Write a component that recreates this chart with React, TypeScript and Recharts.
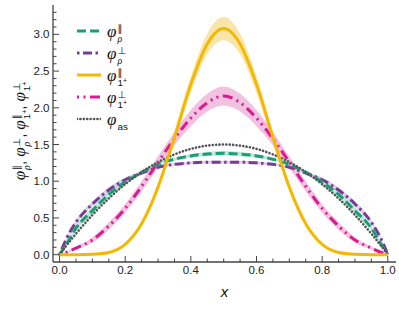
import React from 'react';
import { ComposedChart, Line, Area, XAxis, YAxis } from 'recharts';

// momentum fraction grid
const xs = [0, 0.02, 0.05, 0.1, 0.15, 0.2, 0.25, 0.3, 0.35, 0.4, 0.45, 0.5, 0.55, 0.6, 0.65, 0.7, 0.75, 0.8, 0.85, 0.9, 0.95, 0.98, 1];

// curves
const phiAs = [0, 0.118, 0.285, 0.54, 0.765, 0.96, 1.125, 1.26, 1.365, 1.44, 1.485, 1.5, 1.485, 1.44, 1.365, 1.26, 1.125, 0.96, 0.765, 0.54, 0.285, 0.118, 0];
const rhoPar = [0, 0.14, 0.36, 0.6, 0.82, 0.99, 1.12, 1.23, 1.3, 1.345, 1.37, 1.38, 1.37, 1.345, 1.3, 1.23, 1.12, 0.99, 0.82, 0.6, 0.36, 0.14, 0];
const rhoPerp = [0, 0.21, 0.44, 0.69, 0.88, 1.02, 1.11, 1.19, 1.23, 1.25, 1.26, 1.26, 1.26, 1.25, 1.23, 1.19, 1.11, 1.02, 0.88, 0.69, 0.44, 0.21, 0];
const onePar = [0, 0, 0, 0.005, 0.03, 0.14, 0.42, 0.92, 1.6, 2.32, 2.87, 3.08, 2.87, 2.32, 1.6, 0.92, 0.42, 0.14, 0.03, 0.005, 0, 0, 0];
const onePerp = [0, 0.03, 0.09, 0.2, 0.39, 0.63, 0.93, 1.26, 1.58, 1.86, 2.07, 2.16, 2.07, 1.86, 1.58, 1.26, 0.93, 0.63, 0.39, 0.2, 0.09, 0.03, 0];

// uncertainty half-widths (shaded bands)
const rhoParErr = [0, 0.02, 0.035, 0.045, 0.045, 0.04, 0.03, 0.02, 0.02, 0.025, 0.03, 0.03, 0.03, 0.025, 0.02, 0.02, 0.03, 0.04, 0.045, 0.045, 0.035, 0.02, 0];
const rhoPerpErr = [0, 0.02, 0.03, 0.035, 0.035, 0.03, 0.02, 0.015, 0.015, 0.02, 0.02, 0.02, 0.02, 0.02, 0.015, 0.015, 0.02, 0.03, 0.035, 0.035, 0.03, 0.02, 0];
const oneParErr = [0, 0, 0, 0.001, 0.003, 0.01, 0.025, 0.05, 0.08, 0.11, 0.14, 0.16, 0.14, 0.11, 0.08, 0.05, 0.025, 0.01, 0.003, 0.001, 0, 0, 0];
const onePerpErr = [0, 0.01, 0.02, 0.035, 0.05, 0.06, 0.07, 0.08, 0.09, 0.11, 0.12, 0.13, 0.12, 0.11, 0.09, 0.08, 0.07, 0.06, 0.05, 0.035, 0.02, 0.01, 0];

const xTicks = [0, 0.05, 0.1, 0.15, 0.2, 0.25, 0.3, 0.35, 0.4, 0.45, 0.5, 0.55, 0.6, 0.65, 0.7, 0.75, 0.8, 0.85, 0.9, 0.95, 1];
const xMajor = [0, 0.2, 0.4, 0.6, 0.8, 1];
const yTicks = [0, 0.1, 0.2, 0.3, 0.4, 0.5, 0.6, 0.7, 0.8, 0.9, 1, 1.1, 1.2, 1.3, 1.4, 1.5, 1.6, 1.7, 1.8, 1.9, 2, 2.1, 2.2, 2.3, 2.4, 2.5, 2.6, 2.7, 2.8, 2.9, 3, 3.1, 3.2, 3.3];
const yMajor = [0, 0.5, 1, 1.5, 2, 2.5, 3];

const data = xs.map((x, i) => ({
  x,
  as: phiAs[i],
  rp: rhoPar[i],
  rt: rhoPerp[i],
  op: onePar[i],
  ot: onePerp[i],
  rpBand: [rhoPar[i] - rhoParErr[i], rhoPar[i] + rhoParErr[i]],
  rtBand: [rhoPerp[i] - rhoPerpErr[i], rhoPerp[i] + rhoPerpErr[i]],
  opBand: [onePar[i] - oneParErr[i], onePar[i] + oneParErr[i]],
  otBand: [onePerp[i] - onePerpErr[i], onePerp[i] + onePerpErr[i]],
}));

const GREEN = '#1b9e77';
const PURPLE = '#7a3b96';
const ORANGE = '#f5b800';
const MAGENTA = '#d81b93';
const GRAY = '#555';
const AXIS = '#444';

const DASH_GREEN = '9 4';
const DASH_PURPLE = '2.5 3.5 9 3.5';
const DASH_MAGENTA = '2 4.5 2 4.5 10 4.5';
const DASH_GRAY = '0.1 3.3';

const isIn = (v: number, list: number[]) => list.some((m) => Math.abs(m - v) < 1e-6);
const labelFont = '"Liberation Sans", Arial, sans-serif';

const BottomTick = (props: any) => {
  const { x, y, payload } = props;
  const major = isIn(payload.value, xMajor);
  return (
    <g>
      <line x1={x} x2={x} y1={y} y2={y - (major ? 6 : 3.5)} stroke={AXIS} strokeWidth={1} />
      {major && (
        <text x={x} y={y + 12} textAnchor="middle" fontSize={11.5} fontFamily={labelFont} fill="#222">
          {payload.value.toFixed(1)}
        </text>
      )}
    </g>
  );
};

const TopTick = (props: any) => {
  const { x, y, payload } = props;
  const major = isIn(payload.value, xMajor);
  return <line x1={x} x2={x} y1={y} y2={y + (major ? 6 : 3.5)} stroke={AXIS} strokeWidth={1} />;
};

const LeftTick = (props: any) => {
  const { x, y, payload } = props;
  const major = isIn(payload.value, yMajor);
  return (
    <g>
      <line x1={x} x2={x + (major ? 6 : 3.5)} y1={y} y2={y} stroke={AXIS} strokeWidth={1} />
      {major && (
        <text x={x - 3.5} y={y + 4} textAnchor="end" fontSize={11.5} fontFamily={labelFont} fill="#222">
          {payload.value.toFixed(1)}
        </text>
      )}
    </g>
  );
};

const RightTick = (props: any) => {
  const { x, y, payload } = props;
  const major = isIn(payload.value, yMajor);
  return <line x1={x} x2={x - (major ? 6 : 3.5)} y1={y} y2={y} stroke={AXIS} strokeWidth={1} />;
};

const symFont = '"DejaVu Sans", sans-serif';

const Plus1 = () => (
  <span style={{ fontFamily: labelFont }}>
    1<span style={{ fontSize: '0.7em', position: 'relative', top: '-0.35em' }}>+</span>
  </span>
);
const Rho = () => <span style={{ fontFamily: '"Liberation Serif", serif', fontStyle: 'italic' }}>ρ</span>;
const Par = () => <span style={{ fontFamily: symFont }}>∥</span>;
const Perp = () => <span style={{ fontFamily: symFont }}>⊥</span>;

const Phi = ({ sup, sub, size }: { sup?: React.ReactNode; sub: React.ReactNode; size: number }) => (
  <span style={{ display: 'inline-flex', alignItems: 'center', whiteSpace: 'nowrap' }}>
    <span style={{ fontFamily: '"Liberation Serif", serif', fontStyle: 'italic', fontSize: size, lineHeight: 1 }}>φ</span>
    <span
      style={{
        display: 'inline-flex',
        flexDirection: 'column',
        justifyContent: 'space-between',
        height: size * 1.08,
        fontSize: size * 0.58,
        lineHeight: 1,
        marginLeft: 1,
        marginTop: size * 0.22,
      }}
    >
      <span>{sup ?? '\u00a0'}</span>
      <span>{sub}</span>
    </span>
  </span>
);

const legendRows = [
  { key: 'rp', color: GREEN, dash: DASH_GREEN, width: 3, cap: 'butt', label: <Phi size={17} sup={<Par />} sub={<Rho />} /> },
  { key: 'rt', color: PURPLE, dash: DASH_PURPLE, width: 3, cap: 'butt', label: <Phi size={17} sup={<Perp />} sub={<Rho />} /> },
  { key: 'op', color: ORANGE, dash: undefined, width: 3, cap: 'butt', label: <Phi size={17} sup={<Par />} sub={<Plus1 />} /> },
  { key: 'ot', color: MAGENTA, dash: DASH_MAGENTA, width: 3, cap: 'butt', label: <Phi size={17} sup={<Perp />} sub={<Plus1 />} /> },
  { key: 'as', color: GRAY, dash: DASH_GRAY, width: 2.6, cap: 'round', label: <Phi size={17} sub={<span style={{ fontFamily: labelFont }}>as</span>} /> },
];

export default function App() {
  return (
    <div style={{ position: 'absolute', left: 0, top: 0, width: 399, height: 316, background: '#fff' }}>
      <ComposedChart width={399} height={316} data={data} margin={{ top: 5, right: 3, left: 0, bottom: 0 }}>
        <XAxis
          xAxisId="b"
          dataKey="x"
          type="number"
          domain={[-0.02, 1.025]}
          allowDataOverflow
          ticks={xTicks}
          interval={0}
          tickSize={0}
          tickMargin={0}
          tickLine={false}
          tick={<BottomTick />}
          height={54}
          axisLine={{ stroke: AXIS, strokeWidth: 1.3 }}
          label={{ value: 'x', position: 'insideBottom', offset: 19, fontSize: 15, fontStyle: 'italic', fontFamily: labelFont, fill: '#111' }}
        />
        <XAxis
          xAxisId="t"
          orientation="top"
          dataKey="x"
          type="number"
          domain={[-0.02, 1.025]}
          allowDataOverflow
          ticks={xTicks}
          interval={0}
          tickSize={0}
          tickMargin={0}
          tickLine={false}
          tick={<TopTick />}
          height={0}
          axisLine={{ stroke: AXIS, strokeWidth: 1.3 }}
        />
        <YAxis
          yAxisId="l"
          type="number"
          domain={[-0.1, 3.4]}
          allowDataOverflow
          ticks={yTicks}
          interval={0}
          tickSize={0}
          tickMargin={0}
          tickLine={false}
          tick={<LeftTick />}
          width={53}
          axisLine={{ stroke: AXIS, strokeWidth: 1.3 }}
        />
        <YAxis
          yAxisId="r"
          orientation="right"
          type="number"
          domain={[-0.1, 3.4]}
          allowDataOverflow
          ticks={yTicks}
          interval={0}
          tickSize={0}
          tickMargin={0}
          tickLine={false}
          tick={<RightTick />}
          width={0}
          axisLine={{ stroke: AXIS, strokeWidth: 1.3 }}
        />

        <Area xAxisId="b" yAxisId="l" type="monotone" dataKey="opBand" stroke="none" fill="#f8df9a" fillOpacity={0.85} isAnimationActive={false} />
        <Area xAxisId="b" yAxisId="l" type="monotone" dataKey="otBand" stroke="none" fill="#f1b6da" fillOpacity={0.85} isAnimationActive={false} />
        <Area xAxisId="b" yAxisId="l" type="monotone" dataKey="rpBand" stroke="none" fill="#b5e4d4" fillOpacity={0.85} isAnimationActive={false} />
        <Area xAxisId="b" yAxisId="l" type="monotone" dataKey="rtBand" stroke="none" fill="#d9c6e4" fillOpacity={0.85} isAnimationActive={false} />

        <Line xAxisId="b" yAxisId="l" type="monotone" dataKey="rt" stroke={PURPLE} strokeWidth={3} strokeDasharray={DASH_PURPLE} dot={false} isAnimationActive={false} />
        <Line xAxisId="b" yAxisId="l" type="monotone" dataKey="rp" stroke={GREEN} strokeWidth={3} strokeDasharray={DASH_GREEN} dot={false} isAnimationActive={false} />
        <Line xAxisId="b" yAxisId="l" type="monotone" dataKey="as" stroke={GRAY} strokeWidth={2.6} strokeDasharray={DASH_GRAY} strokeLinecap="round" dot={false} isAnimationActive={false} />
        <Line xAxisId="b" yAxisId="l" type="monotone" dataKey="ot" stroke={MAGENTA} strokeWidth={3} strokeDasharray={DASH_MAGENTA} dot={false} isAnimationActive={false} />
        <Line xAxisId="b" yAxisId="l" type="monotone" dataKey="op" stroke={ORANGE} strokeWidth={3} dot={false} isAnimationActive={false} />
      </ComposedChart>

      {/* legend, top-left inside the frame */}
      <div style={{ position: 'absolute', left: 77, top: 20, display: 'flex', flexDirection: 'column' }}>
        {legendRows.map((r) => (
          <div key={r.key} style={{ height: 22, display: 'flex', alignItems: 'center', color: '#111' }}>
            <svg width={24} height={6} style={{ marginRight: 6 }}>
              <line x1={0} x2={24} y1={3} y2={3} stroke={r.color} strokeWidth={r.width} strokeDasharray={r.dash} strokeLinecap={r.cap as any} />
            </svg>
            {r.label}
          </div>
        ))}
      </div>

      {/* y axis title */}
      <div
        style={{
          position: 'absolute',
          left: 19,
          top: 131,
          transform: 'translate(-50%, -50%) rotate(-90deg)',
          whiteSpace: 'nowrap',
          display: 'flex',
          alignItems: 'center',
          color: '#111',
          fontFamily: labelFont,
          fontSize: 15,
        }}
      >
        <Phi size={17} sup={<Par />} sub={<Rho />} />
        <span style={{ marginRight: 4 }}>,</span>
        <Phi size={17} sup={<Perp />} sub={<Rho />} />
        <span style={{ marginRight: 4 }}>,</span>
        <Phi size={17} sup={<Par />} sub={<Plus1 />} />
        <span style={{ marginRight: 4 }}>,</span>
        <Phi size={17} sup={<Perp />} sub={<Plus1 />} />
      </div>
    </div>
  );
}
